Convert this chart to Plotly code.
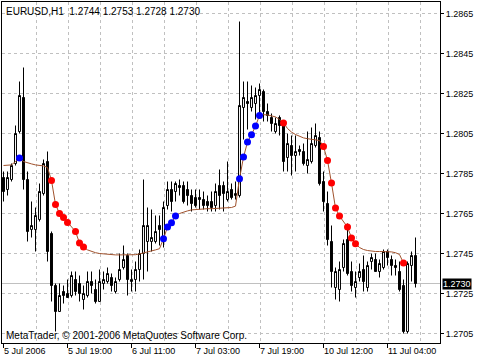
import plotly.graph_objects as go

# ---------------- data ----------------
opens = [1.2783,1.2777,1.2782,1.2790,1.2806,1.2823,1.2782,1.2757,1.2757,1.2762,
         1.2775,1.2791,1.2755,1.2729,1.2716,1.2726,1.2725,1.2724,1.2732,1.2730,
         1.2722,1.2724,1.2731,1.2727,1.2721,1.2730,1.2731,1.2733,1.2726,1.2732,
         1.2738,1.2744,1.2731,1.2732,1.2737,1.2745,1.2751,1.2751,1.2751,1.2759,
         1.2753,1.2769,1.2777,1.2776,1.2779,1.2779,1.2777,1.2774,1.2773,1.2773,
         1.2772,1.2771,1.2771,1.2769,1.2779,1.2779,1.2772,1.2777,1.2774,1.2774,
         1.2818,1.2821,1.2818,1.2820,1.2824,1.2826,1.2816,1.2813,1.2806,1.2813,
         1.2810,1.2793,1.2799,1.2794,1.2797,1.2796,1.2789,1.2791,1.2799,1.2803,
         1.2781,1.2770,1.2751,1.2728,1.2727,1.2738,1.2752,1.2736,1.2728,1.2733,
         1.2737,1.2728,1.2741,1.2742,1.2736,1.2738,1.2746,1.2742,1.2739,1.2736,
         1.2729,1.2706,1.2739,1.2744]
highs = [1.2786,1.2786,1.2790,1.2809,1.2831,1.2838,1.2786,1.2771,1.2768,1.2780,
         1.2792,1.2796,1.2756,1.2730,1.2730,1.2729,1.2732,1.2736,1.2736,1.2734,
         1.2729,1.2736,1.2736,1.2732,1.2737,1.2736,1.2738,1.2735,1.2733,1.2745,
         1.2749,1.2745,1.2737,1.2741,1.2747,1.2782,1.2768,1.2767,1.2764,1.2764,
         1.2771,1.2781,1.2781,1.2781,1.2782,1.2781,1.2781,1.2777,1.2777,1.2777,
         1.2776,1.2774,1.2776,1.2780,1.2787,1.2781,1.2791,1.2780,1.2781,1.2861,
         1.2831,1.2831,1.2829,1.2828,1.2830,1.2827,1.2820,1.2815,1.2813,1.2814,
         1.2811,1.2805,1.2804,1.2804,1.2799,1.2800,1.2806,1.2808,1.2810,1.2806,
         1.2786,1.2776,1.2759,1.2738,1.2741,1.2752,1.2760,1.2741,1.2736,1.2740,
         1.2744,1.2741,1.2745,1.2745,1.2742,1.2747,1.2747,1.2744,1.2742,1.2741,
         1.2732,1.2741,1.2746,1.2753]
lows = [1.2771,1.2774,1.2781,1.2789,1.2805,1.2777,1.2751,1.2753,1.2746,1.2761,
        1.2774,1.2741,1.2721,1.2706,1.2716,1.2720,1.2723,1.2723,1.2724,1.2721,
        1.2717,1.2723,1.2725,1.2720,1.2721,1.2727,1.2730,1.2726,1.2725,1.2731,
        1.2737,1.2724,1.2726,1.2726,1.2731,1.2732,1.2736,1.2746,1.2750,1.2749,
        1.2748,1.2767,1.2766,1.2771,1.2774,1.2770,1.2769,1.2766,1.2768,1.2767,
        1.2767,1.2766,1.2766,1.2766,1.2767,1.2766,1.2771,1.2772,1.2772,1.2773,
        1.2802,1.2807,1.2816,1.2812,1.2813,1.2811,1.2811,1.2806,1.2805,1.2804,
        1.2786,1.2786,1.2784,1.2786,1.2794,1.2789,1.2785,1.2790,1.2798,1.2779,
        1.2766,1.2749,1.2728,1.2722,1.2721,1.2736,1.2734,1.2726,1.2723,1.2731,
        1.2726,1.2726,1.2737,1.2736,1.2733,1.2737,1.2739,1.2734,1.2734,1.2726,
        1.2705,1.2705,1.2731,1.2728]
closes = [1.2776,1.2783,1.2789,1.2805,1.2824,1.2782,1.2756,1.2759,1.2764,1.2776,
          1.2790,1.2746,1.2729,1.2716,1.2724,1.2724,1.2723,1.2734,1.2726,1.2725,
          1.2725,1.2731,1.2729,1.2721,1.2731,1.2732,1.2735,1.2729,1.2731,1.2737,
          1.2742,1.2732,1.2732,1.2737,1.2745,1.2759,1.2759,1.2753,1.2756,1.2757,
          1.2768,1.2777,1.2771,1.2780,1.2778,1.2771,1.2774,1.2770,1.2769,1.2772,
          1.2769,1.2769,1.2768,1.2776,1.2774,1.2775,1.2776,1.2773,1.2775,1.2819,
          1.2823,1.2820,1.2823,1.2824,1.2827,1.2816,1.2814,1.2810,1.2810,1.2809,
          1.2791,1.2800,1.2794,1.2796,1.2796,1.2790,1.2792,1.2800,1.2804,1.2780,
          1.2771,1.2752,1.2736,1.2736,1.2737,1.2750,1.2735,1.2729,1.2731,1.2736,
          1.2731,1.2739,1.2743,1.2736,1.2740,1.2746,1.2743,1.2739,1.2738,1.2727,
          1.2706,1.2740,1.2744,1.2730]

ma = [1.27890,1.27890,1.27893,1.27910,1.27927,1.27910,1.27903,1.27898,1.27893,1.27890,
      1.27888,1.27880,1.27815,1.27695,1.27650,1.27630,1.27605,1.27583,1.27560,1.27502,
      1.27482,1.27468,1.27460,1.27454,1.27450,1.27448,1.27445,1.27444,1.27443,1.27443,
      1.27443,1.27443,1.27443,1.27444,1.27448,1.27454,1.27458,1.27463,1.27468,1.27474,
      1.27524,1.27582,1.27604,1.27637,1.27650,1.27658,1.27663,1.27668,1.27670,1.27672,
      1.27673,1.27674,1.27674,1.27675,1.27676,1.27677,1.27678,1.27680,1.27687,1.27824,
      1.27932,1.28007,1.28044,1.28087,1.28140,1.28144,1.28143,1.28138,1.28133,1.28120,
      1.28103,1.28075,1.28057,1.28045,1.28035,1.28028,1.28024,1.28020,1.28019,1.28015,
      1.27985,1.27915,1.27802,1.27677,1.27637,1.27608,1.27582,1.27528,1.27499,1.27480,
      1.27470,1.27465,1.27462,1.27460,1.27460,1.27460,1.27459,1.27458,1.27454,1.27445,
      1.27402]

up_dots = [4, 40, 41, 42, 43, 59, 60, 61, 62, 63, 64]
down_dots = [12, 13, 14, 15, 16, 18, 19, 20, 70, 80, 81, 82, 83, 84, 86, 87, 88, 100]

time_tick_bars = [0, 16, 32, 48, 64, 80, 96]
time_tick_labels = ["5 Jul 2006", "5 Jul 19:00", "6 Jul 11:00", "7 Jul 03:00",
                    "7 Jul 19:00", "10 Jul 12:00", "11 Jul 04:00"]
price_ticks = [1.2705, 1.2725, 1.2745, 1.2765, 1.2785, 1.2805, 1.2825, 1.2845, 1.2865]

symbol = "EURUSD,H1"
copyright_text = "MetaTrader, © 2001-2006 MetaQuotes Software Corp."

# ---------------- figure ----------------
FONT = "Liberation Sans, Arial, sans-serif"
idx = list(range(len(opens)))

fig = go.Figure()
fig.add_trace(go.Candlestick(
    x=idx, open=opens, high=highs, low=lows, close=closes,
    increasing=dict(line=dict(color="black", width=1), fillcolor="white"),
    decreasing=dict(line=dict(color="black", width=1), fillcolor="black"),
    whiskerwidth=0, hoverinfo="skip", showlegend=False))

fig.add_trace(go.Scatter(
    x=list(range(len(ma))), y=ma, mode="lines",
    line=dict(color="#a0522d", width=1), hoverinfo="skip", showlegend=False))

fig.add_trace(go.Scatter(
    x=up_dots, y=[ma[i] for i in up_dots], mode="markers",
    marker=dict(color="#0000ff", size=7, line=dict(width=0)),
    hoverinfo="skip", showlegend=False))
fig.add_trace(go.Scatter(
    x=down_dots, y=[ma[i] for i in down_dots], mode="markers",
    marker=dict(color="#ff0000", size=7, line=dict(width=0)),
    hoverinfo="skip", showlegend=False))

last_close = closes[-1]
fig.add_hline(y=last_close, line=dict(color="#c0c0c0", width=1), layer="below")

fig.update_layout(
    width=480, height=360,
    margin=dict(l=2, r=40, t=2, b=17, pad=0),
    paper_bgcolor="white", plot_bgcolor="white",
    font=dict(family=FONT, size=9, color="black"),
    showlegend=False,
    xaxis=dict(
        range=[-0.375, 109.125], rangeslider=dict(visible=False),
        showline=True, linecolor="black", linewidth=1, mirror=True,
        tickmode="array", tickvals=time_tick_bars, showticklabels=False,
        ticks="outside", ticklen=4, tickcolor="black", showgrid=False, zeroline=False,
        minor=dict(tickmode="array", tickvals=[8 * k + 0.25 for k in range(1, 14)],
                   showgrid=True, gridcolor="#c0c0c0", griddash="3px,3px", gridwidth=1,
                   ticks=""),
    ),
    yaxis=dict(
        range=[1.270025, 1.287075], side="right",
        showline=True, linecolor="black", linewidth=1, mirror=True,
        tickmode="array", tickvals=price_ticks,
        ticktext=[f"{v:.4f}" for v in price_ticks],
        ticks="outside", ticklen=3, tickcolor="black",
        showgrid=True, gridcolor="#c0c0c0", griddash="3px,3px", gridwidth=1,
        zeroline=False, tickfont=dict(size=9, family=FONT),
    ),
)

annotations = []
for b, lab in zip(time_tick_bars, time_tick_labels):
    annotations.append(dict(x=b, xref="x", y=0, yref="paper", text=lab,
                            showarrow=False, xanchor="left", yanchor="top",
                            xshift=-2, yshift=-1, font=dict(size=9, family=FONT)))
annotations.append(dict(
    x=0, xref="paper", y=1, yref="paper", xanchor="left", yanchor="top",
    xshift=2, yshift=-2, showarrow=False,
    text=f"{symbol}\u00a0\u00a0{opens[-1]:.4f} {highs[-1]:.4f} {lows[-1]:.4f} {closes[-1]:.4f}",
    font=dict(size=10, family=FONT)))
annotations.append(dict(
    x=0, xref="paper", y=0, yref="paper", xanchor="left", yanchor="bottom",
    xshift=2, yshift=0, showarrow=False, text=copyright_text,
    font=dict(size=10, family=FONT)))
annotations.append(dict(
    x=1, xref="paper", y=last_close, yref="y", xanchor="left", yanchor="middle",
    xshift=2, showarrow=False, text=f"{last_close:.4f}", bgcolor="black",
    borderpad=0, font=dict(size=9, family=FONT, color="white")))
fig.update_layout(annotations=annotations)

fig.write_html("out.html")
